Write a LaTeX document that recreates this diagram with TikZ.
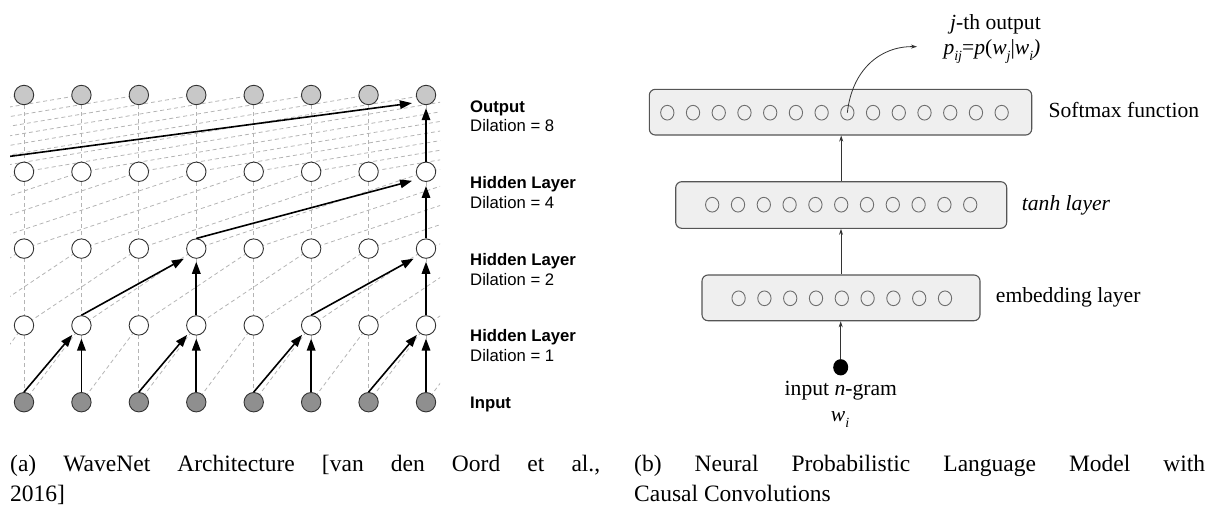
\documentclass[tikz,border=0pt]{standalone}
\usepackage{fontspec}
\setmainfont{Liberation Serif}
\newfontfamily\arialf{Liberation Sans}
\usetikzlibrary{arrows.meta,shapes.geometric}
\definecolor{outfill}{HTML}{C8C8C8}
\definecolor{infill}{HTML}{8F8F8F}
\definecolor{nodedraw}{HTML}{333333}
\definecolor{dashc}{HTML}{B4B4B4}
\definecolor{boxfill}{HTML}{EFEFEF}
\definecolor{boxdraw}{HTML}{555555}
\definecolor{circd}{HTML}{6E6E6E}
\newcommand\lsub[1]{\raisebox{-6pt}{\fontsize{14}{14}\selectfont\itshape #1}}
\tikzset{
  wn/.style={circle, draw=nodedraw, line width=0.9pt, minimum size=19.4pt, inner sep=0pt, fill=white},
  wout/.style={wn, fill=outfill},
  win/.style={wn, fill=infill},
  wdash/.style={draw=dashc, line width=0.8pt, dash pattern=on 4pt off 3pt},
  warr/.style={-{Triangle[length=12pt,width=8.5pt]}, line width=1.6pt, draw=black},
  lab/.style={inner sep=0pt, anchor=base west, font=\arialf\fontsize{16.7}{20}\selectfont},
  box/.style={draw=boxdraw, fill=boxfill, rounded corners=6pt, line width=1.1pt, inner sep=0pt},
  cir/.style={ellipse, draw=circd, line width=0.9pt, minimum width=13.3pt, minimum height=14.7pt, inner sep=0pt},
  sarr/.style={-{Stealth[length=6pt,width=4pt]}, line width=0.8pt, draw=black!80},
  txt/.style={inner sep=0pt, font=\fontsize{21.6}{26}\selectfont},
  captxt/.style={inner sep=0pt, anchor=base west, font=\fontsize{23.5}{29}\selectfont}
}
\begin{document}
\begin{tikzpicture}[x=1pt,y=-1pt]
\useasboundingbox (0,0) rectangle (1220,514);
% ---------- WaveNet (left) ----------
\foreach \r/\yy in {in/402.2,h1/325.4,h2/248.6,h4/171.8,out/95}{
  \foreach \j in {0,...,23}{
    \coordinate (v-\r-\j) at ({24+57.43*(\j-8)},\yy);
  }
}
\begin{scope}
  \clip (10,80) rectangle (440,420);
  \foreach \lo/\hi/\d in {in/h1/1,h1/h2/2,h2/h4/4,h4/out/8}{
    \foreach \j in {0,...,15}{
      \pgfmathtruncatemacro\t{\j+\d}
      \draw[wdash] (v-\lo-\j) -- (v-\hi-\t);
    }
    \foreach \j in {8,...,15}{
      \draw[wdash] (v-\lo-\j) -- (v-\hi-\j);
    }
  }
\end{scope}
\foreach \k in {0,...,7}{
  \node[wout] (out-\k) at ({24+57.43*\k},95) {};
  \node[wn]   (h4-\k)  at ({24+57.43*\k},171.8) {};
  \node[wn]   (h2-\k)  at ({24+57.43*\k},248.6) {};
  \node[wn]   (h1-\k)  at ({24+57.43*\k},325.4) {};
  \node[win]  (in-\k)  at ({24+57.43*\k},402.2) {};
}
% solid arrows
\foreach \a/\b in {0/1,2/3,4/5,6/7}{
  \draw[warr, shorten >=3pt] (in-\a.north) -- (h1-\b.south west);
  \draw[warr, shorten >=3pt] (in-\b.north) -- (h1-\b.south);
}
\foreach \a/\b in {1/3,5/7}{
  \draw[warr, shorten >=6pt] (h1-\a.north) -- (h2-\b.south west);
  \draw[warr, shorten >=3pt] (h1-\b.north) -- (h2-\b.south);
}
\draw[warr, shorten >=7pt] (h2-3.north) -- (h4-7.south west);
\draw[warr, shorten >=4pt] (h2-7.north) -- (h4-7.south);
\draw[warr, shorten >=3pt] (h4-7.north) -- (out-7.south);
\coordinate (lstart) at ({24-57.43},162.1);
\begin{scope}
  \clip (10,80) rectangle (440,420);
  \draw[warr, shorten >=7pt] (lstart) -- (out-7.south west);
\end{scope}
% labels
\node[lab] (lo1) at (470,112.3) {\bfseries Output};
\node[lab] (lo2) at (470,131.7) {Dilation = 8};
\node[lab] (l41) at (470,188.3) {\bfseries Hidden Layer};
\node[lab] (l42) at (470,208) {Dilation = 4};
\node[lab] (l21) at (470,265) {\bfseries Hidden Layer};
\node[lab] (l22) at (470,285) {Dilation = 2};
\node[lab] (l11) at (470,341.7) {\bfseries Hidden Layer};
\node[lab] (l12) at (470,361.7) {Dilation = 1};
\node[lab] (lin) at (470,408.3) {\bfseries Input};
% ---------- NPLM (right) ----------
\node[box, minimum width=382.4pt, minimum height=45.7pt] (soft) at (840.5,112.15) {};
\node[box, minimum width=331pt, minimum height=46.6pt] (tanh) at (841.2,205) {};
\node[box, minimum width=278pt, minimum height=45.7pt] (emb) at (841,297.85) {};
\foreach \i in {0,...,13}{ \node[cir] (s-\i) at ({667.3+25.72*\i},112.7) {}; }
\foreach \i in {0,...,10}{ \node[cir] (t-\i) at ({712.2+25.8*\i},204.7) {}; }
\foreach \i in {0,...,8}{ \node[cir] (e-\i) at ({738.6+25.8*\i},298.3) {}; }
\node[ellipse, fill=black, minimum width=15pt, minimum height=16.3pt, inner sep=0pt] (inp) at (840.7,367.3) {};
\draw[sarr] (inp.north) -- (inp.north |- emb.south);
\draw[sarr] (emb.north) -- (emb.north |- tanh.south);
\draw[sarr] (tanh.north) -- (tanh.north |- soft.south);
\coordinate (ptip) at (917,46.7);
\draw[sarr] (s-7.center) .. controls (852,70) and (880,46) .. (ptip);
\node[txt, anchor=base west] (softl) at (1048.3,117.7) {Softmax function};
\node[txt, anchor=base west] (tanhl) at (1021.7,210) {\itshape tanh layer};
\node[txt, anchor=base west] (embl) at (995.7,302.7) {embedding layer};
\node[txt, anchor=base] (inl) at (840.8,395) {input \textit{n}-gram};
\node[txt, anchor=base] (wi) at (840,421.7) {\textit{w}\lsub{i}};
\node[txt, anchor=base west] (jout) at (950,29.3) {\textit{j}-th output};
\node[txt, anchor=base west] (pij) at (943.3,54) {\textit{p}\lsub{ij}=\textit{p}(\textit{w}\lsub{j}|\textit{w}\lsub{i}\textit{)}};
% ---------- captions ----------
\node[captxt] (ca1) at (10,471.7) {\makebox[590pt][s]{(a) WaveNet Architecture [van den Oord et al.,}};
\node[captxt] (ca2) at (10,501) {2016]};
\node[captxt] (cb1) at (634,471.7) {\makebox[571pt][s]{(b) Neural Probabilistic Language Model with}};
\node[captxt] (cb2) at (634,501) {Causal Convolutions};
\end{tikzpicture}
\end{document}
